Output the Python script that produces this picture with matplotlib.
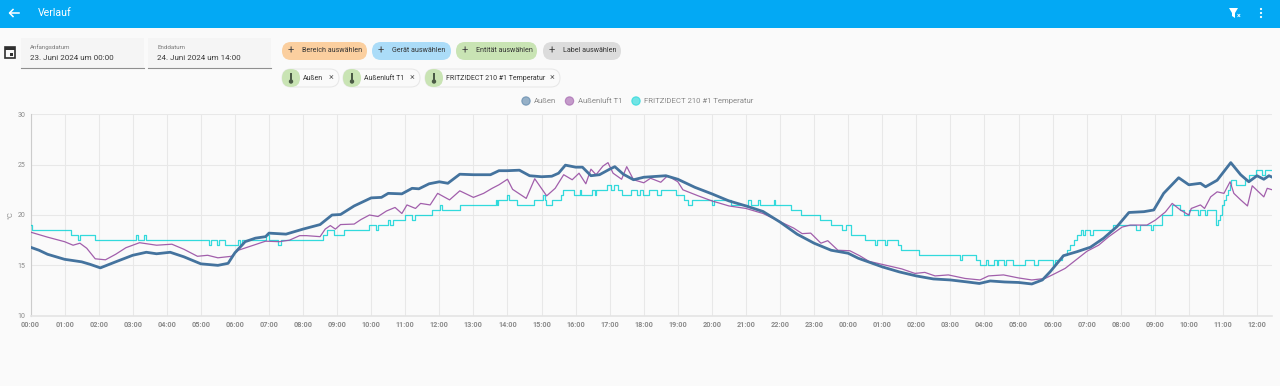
import matplotlib
matplotlib.use('Agg')
import matplotlib.pyplot as plt
from matplotlib.patches import FancyBboxPatch, Rectangle, Circle, Polygon

plt.rcParams['font.family'] = ['Roboto', 'DejaVu Sans']

# hours since 23 June 00:00
aussen_t = [0, 0.25, 0.5, 1.0, 1.5, 1.75, 2.05, 2.5, 3.0, 3.4, 3.7, 4.1, 4.5, 5.0, 5.5, 5.8, 6.0, 6.3, 6.6, 6.9, 7.0,
            7.5, 8.0, 8.5, 8.85, 9.1, 9.5, 10.0, 10.3, 10.5, 10.9, 11.2, 11.4, 11.7, 12.0, 12.25, 12.6, 13.0, 13.5,
            13.75, 14.0, 14.35, 14.65, 15.0, 15.3, 15.5, 15.7, 16.0, 16.2, 16.45, 16.7, 17.0, 17.15, 17.4, 17.7,
            18.0, 18.65, 19.0, 19.5, 20.0, 20.5, 21.0, 21.5, 22.0, 22.5, 23.0, 23.5, 24.0, 24.3, 25.0, 25.5, 26.0,
            26.5, 27.0, 27.5, 27.85, 28.17, 28.59, 29.0, 29.39, 29.7, 29.93, 30.32, 30.72, 31.11, 31.5, 31.89,
            32.24, 32.68, 32.97, 33.26, 33.7, 34.0, 34.34, 34.49, 34.83, 35.23, 35.52, 35.76, 36.0, 36.2, 36.35,
            36.45]
aussen_v = [16.8, 16.5, 16.1, 15.6, 15.35, 15.1, 14.75, 15.35, 16.0, 16.3, 16.15, 16.3, 15.85, 15.15, 15.0, 15.2,
            16.25, 17.35, 17.7, 17.85, 18.2, 18.1, 18.6, 19.05, 20.0, 20.05, 20.9, 21.7, 21.75, 22.15, 22.1, 22.65,
            22.6, 23.1, 23.3, 23.15, 24.05, 24.0, 24.0, 24.4, 24.4, 24.45, 23.9, 23.8, 23.85, 24.15, 24.95, 24.75,
            24.75, 23.9, 24.0, 24.55, 24.8, 24.05, 23.5, 23.75, 23.9, 23.55, 22.75, 22.1, 21.4, 20.9, 20.35, 19.3,
            18.1, 17.2, 16.5, 16.2, 15.7, 14.85, 14.35, 13.95, 13.65, 13.55, 13.35, 13.2, 13.45, 13.35, 13.3, 13.15,
            13.55, 14.37, 15.96, 16.36, 16.8, 17.7, 18.85, 20.25, 20.33, 20.5, 22.15, 23.7, 23.0, 23.15, 22.8, 23.45,
            25.2, 24.0, 23.3, 23.9, 23.55, 23.9, 23.75]

t1_t = [0, 0.5, 1.0, 1.25, 1.45, 1.65, 1.9, 2.2, 2.5, 2.8, 3.2, 3.7, 4.15, 4.5, 4.9, 5.2, 5.5, 5.9, 6.1, 6.5, 6.9,
        7.3, 7.6, 7.9, 8.1, 8.5, 8.65, 8.8, 8.95, 9.1, 9.5, 9.7, 9.95, 10.2, 10.45, 10.7, 10.9, 11.05, 11.3, 11.45,
        11.73, 11.95, 12.3, 12.6, 13.0, 13.3, 13.55, 13.75, 14.0, 14.15, 14.55, 14.8, 15.15, 15.4, 15.65, 15.9, 16.1,
        16.3, 16.45, 16.6, 16.8, 16.95, 17.1, 17.35, 17.5, 17.7, 18.0, 18.2, 18.5, 18.7, 19.0, 19.15, 19.6, 20.0,
        20.5, 21.0, 21.5, 22.0, 22.4, 22.65, 22.9, 23.2, 23.4, 23.7, 24.05, 24.34, 24.61, 25.18, 25.57, 25.96, 26.25,
        26.55, 26.94, 27.43, 27.87, 28.12, 28.56, 29.0, 29.39, 29.78, 30.08, 30.37, 30.67, 31.01, 31.35, 31.65, 32.04,
        32.28, 32.77, 33.02, 33.31, 33.51, 33.75, 34.0, 34.07, 34.34, 34.46, 34.64, 34.83, 35.03, 35.21, 35.32, 35.52,
        35.72, 35.86, 36.2, 36.3, 36.45]
t1_v = [18.3, 17.8, 17.35, 17.0, 17.2, 16.7, 15.65, 15.55, 16.1, 16.75, 17.25, 17.0, 17.1, 16.6, 15.9, 16.0, 15.75,
        15.9, 16.5, 16.95, 17.4, 17.35, 17.5, 17.95, 17.95, 17.85, 18.6, 18.95, 18.6, 19.05, 19.1, 19.55, 20.0, 19.85,
        20.4, 20.75, 20.15, 21.0, 20.65, 21.15, 21.0, 22.15, 21.5, 22.4, 21.75, 22.15, 22.65, 23.0, 23.55, 22.55, 21.65,
        23.6, 21.9, 22.65, 24.0, 23.5, 24.15, 23.1, 24.55, 24.0, 24.85, 25.2, 24.15, 23.55, 24.8, 23.5, 23.2, 23.65,
        23.25, 23.9, 23.3, 22.5, 21.9, 21.4, 20.9, 20.65, 20.15, 19.35, 18.7, 18.15, 18.2, 17.2, 17.45, 16.5, 16.45,
        15.95, 15.4, 14.95, 14.65, 14.2, 14.3, 13.95, 14.05, 13.7, 13.55, 13.95, 14.05, 13.75, 13.55, 13.7, 14.2, 14.7,
        15.5, 16.4, 17.0, 17.85, 18.8, 19.0, 19.0, 19.5, 20.3, 21.15, 20.5, 20.0, 20.65, 21.0, 20.65, 21.8, 22.3, 22.15,
        23.3, 22.15, 21.5, 20.9, 22.9, 21.8, 22.65, 22.5]

fritz_t = [0, 0.05, 1.2, 1.38, 1.44, 1.88, 3.1, 3.16, 3.33, 3.39,
           5.25, 5.31, 5.48, 5.54, 5.7, 6.08, 6.14, 6.2, 6.9, 7.0,
           7.25, 7.35, 8.6, 8.7, 8.9, 9.2, 9.95, 10.13, 10.19, 10.5,
           10.56, 10.65, 11.0, 11.2, 11.3, 11.78, 12.02, 12.09, 12.61, 13.65,
           13.68, 13.73, 14.0, 14.05, 14.29, 14.78, 15.05, 15.1, 15.13, 15.31,
           15.56, 15.64, 15.95, 16.13, 16.17, 16.48, 16.56, 16.6, 16.91, 17.05,
           17.13, 17.25, 17.35, 17.64, 17.79, 17.88, 17.98, 18.15, 18.4, 18.5,
           18.96, 19.18, 19.3, 19.42, 19.99, 20.06, 20.57, 21.06, 21.16, 21.35,
           21.4, 21.81, 21.86, 22.33, 22.63, 23.16, 23.5, 23.83, 23.93, 24.09,
           24.49, 24.8, 24.86, 25.07, 25.14, 25.47, 25.55, 26.09, 27.27, 27.33,
           27.75, 27.87, 28.05, 28.1, 28.28, 28.36, 28.4, 28.56, 28.62, 28.83,
           29.2, 29.44, 29.56, 30.0, 30.06, 30.28, 30.42, 30.52, 30.62, 30.72,
           30.83, 30.9, 30.96, 31.11, 31.2, 31.76, 32.45, 32.58, 32.88, 32.96,
           33.2, 33.5, 33.75, 33.85, 34.0, 34.28, 34.34, 34.48, 34.54, 34.8,
           34.85, 34.92, 34.97, 35.02, 35.08, 35.14, 35.2, 35.25, 35.37, 35.66,
           35.76, 35.96, 36.16, 36.22, 36.45]
fritz_v = [19, 18.5, 18, 17.5, 18, 17.5, 18, 17.5, 18, 17.5,
           17, 17.5, 17, 17.5, 17, 17.5, 17, 17.5, 18, 17.5,
           17, 17.5, 18, 18.5, 18, 18.5, 19, 18.5, 19, 19.5,
           19, 19.5, 20, 19.5, 20, 20.5, 21, 20.5, 21, 21.5,
           21, 21.5, 22, 21.5, 21, 21.5, 22, 21.5, 21, 21.5,
           22, 22.5, 22, 22.5, 22, 22.5, 22, 22.5, 23, 22.5,
           23, 22.5, 22, 22.5, 22, 22.5, 22, 22.5, 22, 22.5,
           22, 21.5, 21, 21.5, 21, 21.5, 21, 21.5, 21, 21.5,
           21, 21.5, 21, 20.5, 20, 19.5, 19, 18.5, 19, 18,
           17.5, 17, 17.5, 17, 17.5, 17, 16.5, 16, 15.5, 16,
           15.5, 15, 15.5, 15, 15.5, 15, 15.5, 15, 15.5, 15,
           15.5, 15, 15.5, 15, 15.5, 16, 16.5, 17, 17.5, 18,
           18.5, 18, 18.5, 18, 18.5, 19, 18.5, 19, 18.5, 19,
           20, 21, 20.5, 20, 20.5, 20, 20.5, 20, 20.5, 19,
           19.5, 20, 21, 21.5, 22, 22.5, 23, 23.5, 23, 23.5,
           24, 24.5, 24, 24.5, 24.5]

hour_ticks = list(range(0, 37))
hour_labels = ['%02d:00' % (h % 24) for h in hour_ticks]
temp_ticks = [10, 15, 20, 25, 30]
series_names = ['Außen', 'Außenluft T1', 'FRITZ!DECT 210 #1 Temperatur']
series_colors = ['#44739e', '#984ea3', '#00d2d5']

W, H = 1280, 386
fig = plt.figure(figsize=(W / 100, H / 100), dpi=100, facecolor='#fafafa')

# chart, placed in pixels
left, right, top, bottom = 30.5, 1272, 114.3, 315.7
ax = fig.add_axes([left / W, 1 - bottom / H, (right - left) / W, (bottom - top) / H], facecolor='#fafafa')
ax.plot(fritz_t, fritz_v, color=series_colors[2], lw=0.9, alpha=0.8, drawstyle='steps-post', zorder=3)
ax.plot(t1_t, t1_v, color=series_colors[1], lw=0.9, alpha=0.9, zorder=4)
ax.plot(aussen_t, aussen_v, color=series_colors[0], lw=2.0, zorder=5)
ax.set_xlim(0, 36.44)
ax.set_ylim(10, 30)
ax.set_xticks(hour_ticks)
ax.set_xticklabels(hour_labels, fontsize=5.2, fontweight='bold', color='#8a8a8a')
ax.set_yticks(temp_ticks)
ax.set_yticklabels(temp_ticks, fontsize=5, color='#8a8a8a')
ax.grid(color='#e8e8e8', lw=0.8)
ax.set_axisbelow(True)
ax.tick_params(length=0, pad=3.5)
for s in ['top', 'right']:
    ax.spines[s].set_visible(False)
ax.spines['left'].set_color('#cccccc')
ax.spines['bottom'].set_color('#e4e4e4')
ax.spines['bottom'].set_linewidth(1.2)
ax.set_ylabel('°C', fontsize=5.5, color='#8a8a8a', labelpad=3)

# the page around the chart, in pixel coords
ui = fig.add_axes([0, 0, 1, 1], facecolor='none')
ui.set_xlim(0, W)
ui.set_ylim(H, 0)
ui.axis('off')

ui.add_patch(Rectangle((0, 0), W, 27.5, color='#03a9f4', lw=0))
ui.text(38, 13, 'Verlauf', fontsize=7.6, color='white', va='center')
ui.plot([9.5, 18.5], [13, 13], color='white', lw=1.1)
ui.plot([13, 9.5, 13], [9.5, 13, 16.5], color='white', lw=1.1)
ui.add_patch(Polygon([(1229, 8), (1238, 8), (1235, 13), (1235, 18), (1232, 16), (1232, 13)], color='white', lw=0))
ui.text(1239, 16, '×', fontsize=5, color='white', ha='center', va='center', fontweight='bold')
for y in [9, 13, 17]:
    ui.add_patch(Circle((1261, y), 1.1, color='white', lw=0))

# calendar icon
ui.add_patch(Rectangle((5, 47), 10, 11, facecolor='#fafafa', edgecolor='#303030', lw=1.2))
ui.add_patch(Rectangle((5, 47), 10, 3, color='#303030', lw=0))
ui.add_patch(Rectangle((10, 53), 3, 3, color='#303030', lw=0))

date_x = [21, 148]
date_label = ['Anfangsdatum', 'Enddatum']
date_value = ['23. Juni 2024 um 00:00', '24. Juni 2024 um 14:00']
for x, lab, val in zip(date_x, date_label, date_value):
    ui.add_patch(Rectangle((x, 38), 123, 30, color='#f5f5f5', lw=0))
    ui.plot([x, x + 123], [68.3, 68.3], color='#8f8f8f', lw=0.8)
    ui.text(x + 9, 47.5, lab, fontsize=4.4, color='#777777', va='center')
    ui.text(x + 9, 57.5, val, fontsize=5.8, color='#3a3a3a', va='center')

# filter chips
chip_x = [(282, 367), (372, 451), (456, 537), (543, 621)]
chip_text = ['Bereich auswählen', 'Gerät auswählen', 'Entität auswählen', 'Label auswählen']
chip_color = ['#fbcf9f', '#abdcf8', '#c9e4b4', '#dcdcdc']
for (x0, x1), txt, c in zip(chip_x, chip_text, chip_color):
    ui.add_patch(FancyBboxPatch((x0, 42), x1 - x0, 18, boxstyle='round,pad=0,rounding_size=9', fc=c, lw=0))
    ui.text(x0 + 9, 51, '+', fontsize=8, color='#444444', ha='center', va='center')
    ui.text(x0 + 20, 51, txt, fontsize=5.1, color='#333333', va='center')

picked_x = [(282, 339), (343, 420), (425, 560)]
for (x0, x1), txt in zip(picked_x, series_names):
    ui.add_patch(FancyBboxPatch((x0, 69), x1 - x0, 18, boxstyle='round,pad=0,rounding_size=9', fc='#fafafa', ec='#e6e6e6', lw=0.7))
    ui.add_patch(FancyBboxPatch((x0, 69), 18, 18, boxstyle='round,pad=0,rounding_size=9', fc='#c9e4b4', lw=0))
    ui.add_patch(Rectangle((x0 + 7.8, 72.5), 2.4, 8, color='#4a5a45', lw=0))
    ui.add_patch(Circle((x0 + 9, 81.5), 2.2, color='#4a5a45', lw=0))
    ui.text(x0 + 20.5, 78, txt, fontsize=5.0, color='#333333', va='center')
    ui.text(x1 - 8, 77.5, '×', fontsize=6.5, color='#666666', ha='center', va='center')

# legend
legend_x = [526, 569.5, 636]
for x, name, c in zip(legend_x, series_names, series_colors):
    ui.add_patch(Circle((x, 101), 4.2, fc=c, alpha=0.55, ec=c, lw=0.8))
    ui.text(x + 8, 101, name, fontsize=5.6, color='#8a8a8a', va='center')

fig.savefig('out.png', dpi=100, facecolor=fig.get_facecolor())
